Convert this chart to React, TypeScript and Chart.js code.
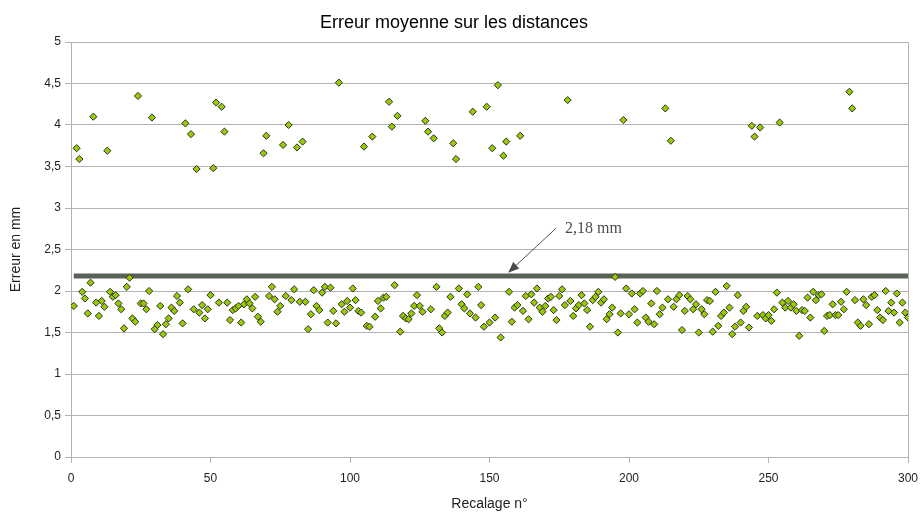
import React, { useEffect, useRef } from "react";
import { Chart, registerables } from "chart.js";

Chart.register(...registerables);

const titre = "Erreur moyenne sur les distances";
const titreX = "Recalage n°";
const titreY = "Erreur en mm";
const seuil = 2.18;
const seuilLabel = "2,18 mm";
const xTicks = [0, 50, 100, 150, 200, 250, 300];
const yTicks = [0, 0.5, 1, 1.5, 2, 2.5, 3, 3.5, 4, 4.5, 5];

// Erreur moyenne par recalage (n° 1 à 300)
const erreur001_050 = [
  1.82, 3.72, 3.59, 1.99, 1.91, 1.73, 2.1, 4.1, 1.86, 1.7,
  1.88, 1.81, 3.69, 1.99, 1.93, 1.95, 1.85, 1.78, 1.55, 2.05,
  2.16, 1.67, 1.63, 4.35, 1.85, 1.85, 1.78, 2.0, 4.09, 1.54,
  1.59, 1.82, 1.48, 1.6, 1.67, 1.8, 1.76, 1.94, 1.86, 1.61,
  4.02, 2.02, 3.89, 1.78, 3.47, 1.74, 1.83, 1.67, 1.78, 1.95,
];
const erreur051_100 = [
  3.48, 4.27, 1.86, 4.22, 3.92, 1.86, 1.65, 1.77, 1.79, 1.82,
  1.62, 1.84, 1.9, 1.85, 1.79, 1.93, 1.69, 1.63, 3.66, 3.87,
  1.94, 2.05, 1.9, 1.75, 1.82, 3.76, 1.94, 4.0, 1.89, 2.02,
  3.73, 1.87, 3.8, 1.87, 1.54, 1.72, 2.01, 1.82, 1.77, 1.98,
  2.05, 1.62, 2.04, 1.76, 1.61, 4.51, 1.84, 1.75, 1.88, 1.8,
];
const erreur101_150 = [
  2.03, 1.89, 1.76, 1.74, 3.74, 1.58, 1.57, 3.86, 1.69, 1.88,
  1.79, 1.92, 1.93, 4.28, 3.98, 2.07, 4.11, 1.51, 1.7, 1.67,
  1.66, 1.73, 1.82, 1.95, 1.82, 1.75, 4.05, 3.92, 1.78, 3.84,
  2.05, 1.55, 1.5, 1.7, 1.74, 1.93, 3.78, 3.59, 2.03, 1.84,
  1.79, 1.96, 1.73, 4.16, 1.68, 2.05, 1.83, 1.57, 4.22, 1.62,
];
const erreur151_200 = [
  3.72, 1.68, 4.48, 1.44, 3.63, 3.8, 1.99, 1.63, 1.8, 1.83,
  3.87, 1.76, 1.94, 1.66, 1.96, 1.86, 2.03, 1.8, 1.75, 1.82,
  1.91, 1.93, 1.77, 1.65, 1.94, 2.02, 1.83, 4.3, 1.88, 1.7,
  1.79, 1.83, 1.95, 1.85, 1.77, 1.57, 1.89, 1.93, 1.99, 1.86,
  1.9, 1.66, 1.72, 1.8, 2.17, 1.5, 1.73, 4.06, 2.03, 1.72,
];
const erreur201_250 = [
  1.97, 1.78, 1.62, 1.97, 2.0, 1.68, 1.63, 1.85, 1.6, 2.0,
  1.72, 1.8, 4.2, 1.9, 3.81, 1.81, 1.9, 1.95, 1.53, 1.76,
  1.94, 1.9, 1.78, 1.84, 1.5, 1.78, 1.72, 1.89, 1.88, 1.51,
  1.99, 1.58, 1.7, 1.74, 2.06, 1.8, 1.48, 1.57, 1.95, 1.62,
  1.76, 1.81, 1.56, 3.99, 3.86, 1.7, 3.97, 1.71, 1.67, 1.71,
];
const erreur251_300 = [
  1.64, 1.78, 1.98, 4.03, 1.86, 1.8, 1.88, 1.8, 1.84, 1.76,
  1.46, 1.77, 1.76, 1.92, 1.68, 1.99, 1.89, 1.95, 1.96, 1.52,
  1.7, 1.71, 1.84, 1.71, 1.71, 1.87, 1.78, 1.99, 4.4, 4.2,
  1.89, 1.62, 1.58, 1.9, 1.83, 1.6, 1.93, 1.95, 1.77, 1.68,
  1.65, 2.0, 1.76, 1.86, 1.74, 1.97, 1.62, 1.86, 1.74, 1.68,
];

const erreurs = [
  ...erreur001_050,
  ...erreur051_100,
  ...erreur101_150,
  ...erreur151_200,
  ...erreur201_250,
  ...erreur251_300,
];

const GRID = "#b3b3b3";
const SANS = "'Liberation Sans', Arial, sans-serif";

const decorPlugin = {
  id: "decor",
  afterDatasetsDraw(chart: any) {
    const { ctx, chartArea, scales } = chart;
    const xs = scales.x;
    const ys = scales.y;
    ctx.save();
    // right frame
    ctx.strokeStyle = GRID;
    ctx.lineWidth = 1;
    ctx.beginPath();
    ctx.moveTo(Math.round(chartArea.right) + 0.5, chartArea.top);
    ctx.lineTo(Math.round(chartArea.right) + 0.5, chartArea.bottom);
    ctx.stroke();

    // annotation arrow
    const x0 = xs.getPixelForValue(173.8);
    const y0 = ys.getPixelForValue(2.755);
    const x1 = xs.getPixelForValue(156.7);
    const y1 = ys.getPixelForValue(2.22);
    const ang = Math.atan2(y1 - y0, x1 - x0);
    const headLen = 11;
    const headW = 4.5;
    ctx.strokeStyle = "#555";
    ctx.fillStyle = "#4a4a4a";
    ctx.lineWidth = 1;
    ctx.beginPath();
    ctx.moveTo(x0, y0);
    ctx.lineTo(x1 - Math.cos(ang) * headLen * 0.8, y1 - Math.sin(ang) * headLen * 0.8);
    ctx.stroke();
    const bx = x1 - Math.cos(ang) * headLen;
    const by = y1 - Math.sin(ang) * headLen;
    ctx.beginPath();
    ctx.moveTo(x1, y1);
    ctx.lineTo(bx + Math.sin(ang) * headW, by - Math.cos(ang) * headW);
    ctx.lineTo(bx - Math.sin(ang) * headW, by + Math.cos(ang) * headW);
    ctx.closePath();
    ctx.fill();

    // annotation text
    ctx.fillStyle = "#4d4d4d";
    ctx.font = "16px 'Liberation Serif', 'Times New Roman', serif";
    ctx.textAlign = "left";
    ctx.textBaseline = "alphabetic";
    ctx.fillText(seuilLabel, xs.getPixelForValue(177.1), ys.getPixelForValue(2.7));
    ctx.restore();
  },
};

export default function App() {
  const ref = useRef<HTMLCanvasElement>(null);

  useEffect(() => {
    document.body.style.margin = "0";
    const canvas = ref.current;
    if (!canvas) return;
    const fmt = (v: any) => String(v).replace(".", ",");
    const chart = new Chart(canvas, {
      type: "scatter",
      data: {
        datasets: [
          {
            label: "Erreur",
            data: erreurs.map((e, i) => ({ x: i + 1, y: e })),
            pointStyle: "rectRot",
            pointRadius: 3.6,
            pointHoverRadius: 3.6,
            backgroundColor: "#99cc00",
            borderColor: "#2e2e2e",
            borderWidth: 1,
            order: 1,
          },
          {
            type: "line",
            label: "Seuil",
            data: [
              { x: 1, y: seuil },
              { x: 300, y: seuil },
            ],
            showLine: true,
            pointRadius: 0,
            borderColor: "#596257",
            borderWidth: 5,
            fill: false,
            order: 2,
          } as any,
        ],
      },
      options: {
        animation: false,
        responsive: false,
        devicePixelRatio: 1,
        events: [],
        layout: { padding: { left: 0, right: 12, top: 0, bottom: 0 } },
        plugins: {
          legend: { display: false },
          tooltip: { enabled: false },
          title: {
            display: true,
            text: titre,
            color: "#000",
            font: { family: SANS, size: 18, weight: "normal", lineHeight: 1.2 },
            padding: { top: 12, bottom: 8.4 },
          },
        },
        scales: {
          x: {
            type: "linear",
            min: 0,
            max: 300,
            afterBuildTicks: (s: any) => {
              s.ticks = xTicks.map((v) => ({ value: v }));
            },
            afterFit: (s: any) => {
              s.height = 58;
              s.paddingLeft = 0;
              s.paddingRight = 0;
            },
            ticks: {
              color: "#222",
              font: { family: SANS, size: 12 },
              padding: 8,
              maxRotation: 0,
              callback: (v: any) => fmt(v),
            },
            grid: {
              display: true,
              drawOnChartArea: false,
              drawTicks: true,
              tickLength: 6,
              color: GRID,
            },
            border: { display: true, color: GRID },
            title: {
              display: true,
              text: titreX,
              color: "#222",
              font: { family: SANS, size: 14, lineHeight: 1.2 },
              padding: { top: 0, bottom: 2 },
            },
          },
          y: {
            type: "linear",
            min: 0,
            max: 5,
            afterBuildTicks: (s: any) => {
              s.ticks = yTicks.map((v) => ({ value: v }));
            },
            afterFit: (s: any) => {
              s.width = 71;
            },
            ticks: {
              color: "#222",
              font: { family: SANS, size: 12 },
              padding: 4,
              callback: (v: any) => fmt(v),
            },
            grid: {
              display: true,
              drawTicks: true,
              tickLength: 6,
              color: GRID,
            },
            border: { display: true, color: GRID },
            title: {
              display: true,
              text: titreY,
              color: "#222",
              font: { family: SANS, size: 14, lineHeight: 1.2 },
              padding: { top: 8, bottom: 0 },
            },
          },
        },
      },
      plugins: [decorPlugin],
    });
    return () => chart.destroy();
  }, []);

  return (
    <div style={{ width: 920, height: 515, background: "#fff" }}>
      <canvas ref={ref} width={920} height={515} style={{ display: "block" }} />
    </div>
  );
}
